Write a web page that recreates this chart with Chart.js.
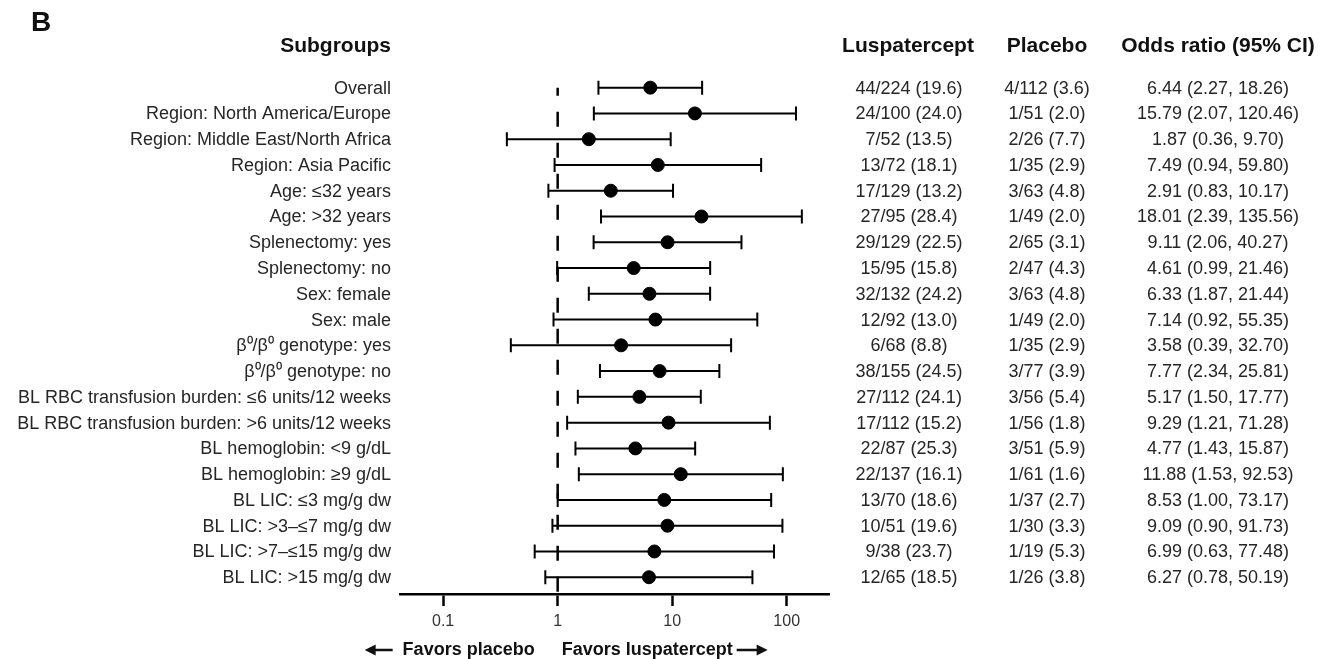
<!DOCTYPE html>
<html>
<head>
<meta charset="utf-8">
<script src="https://cdn.jsdelivr.net/npm/chart.js@4"></script>
<style>
  body { margin: 0; background: #fff; }
  #wrap { width: 1322px; height: 659px; }
</style>
</head>
<body>
<div id="wrap"><canvas id="forestChart" width="1322" height="659"></canvas></div>
<script>
// forest plot data

const subgroups = [
    'Overall',
    'Region: North America/Europe',
    'Region: Middle East/North Africa',
    'Region: Asia Pacific',
    'Age: \u226432 years',
    'Age: >32 years',
    'Splenectomy: yes',
    'Splenectomy: no',
    'Sex: female',
    'Sex: male',
    '\u03B2\u2070/\u03B2\u2070 genotype: yes',
    '\u03B2\u2070/\u03B2\u2070 genotype: no',
    'BL RBC transfusion burden: \u22646 units/12 weeks',
    'BL RBC transfusion burden: >6 units/12 weeks',
    'BL hemoglobin: <9 g/dL',
    'BL hemoglobin: \u22659 g/dL',
    'BL LIC: \u22643 mg/g dw',
    'BL LIC: >3\u2013\u22647 mg/g dw',
    'BL LIC: >7\u2013\u226415 mg/g dw',
    'BL LIC: >15 mg/g dw'
];
const luspN = ['44/224 (19.6)', '24/100 (24.0)', '7/52 (13.5)', '13/72 (18.1)', '17/129 (13.2)',
    '27/95 (28.4)', '29/129 (22.5)', '15/95 (15.8)', '32/132 (24.2)', '12/92 (13.0)',
    '6/68 (8.8)', '38/155 (24.5)', '27/112 (24.1)', '17/112 (15.2)', '22/87 (25.3)',
    '22/137 (16.1)', '13/70 (18.6)', '10/51 (19.6)', '9/38 (23.7)', '12/65 (18.5)'];
const placeboN = ['4/112 (3.6)', '1/51 (2.0)', '2/26 (7.7)', '1/35 (2.9)', '3/63 (4.8)',
    '1/49 (2.0)', '2/65 (3.1)', '2/47 (4.3)', '3/63 (4.8)', '1/49 (2.0)',
    '1/35 (2.9)', '3/77 (3.9)', '3/56 (5.4)', '1/56 (1.8)', '3/51 (5.9)',
    '1/61 (1.6)', '1/37 (2.7)', '1/30 (3.3)', '1/19 (5.3)', '1/26 (3.8)'];
const oddsRatio = [6.44, 15.79, 1.87, 7.49, 2.91, 18.01, 9.11, 4.61, 6.33, 7.14,
    3.58, 7.77, 5.17, 9.29, 4.77, 11.88, 8.53, 9.09, 6.99, 6.27];
const ciLow = [2.27, 2.07, 0.36, 0.94, 0.83, 2.39, 2.06, 0.99, 1.87, 0.92,
    0.39, 2.34, 1.50, 1.21, 1.43, 1.53, 1.00, 0.90, 0.63, 0.78];
const ciHigh = [18.26, 120.46, 9.70, 59.80, 10.17, 135.56, 40.27, 21.46, 21.44, 55.35,
    32.70, 25.81, 17.77, 71.28, 15.87, 92.53, 73.17, 91.73, 77.48, 50.19];
const xTicks = [0.1, 1, 10, 100];

const FONT = '"Liberation Sans", Arial, sans-serif';

// error bars + dashed line at 1
const ciBars = {
    id: 'ciBars',
    beforeDatasetsDraw(chart) {
        const ctx = chart.ctx;
        const x = chart.scales.x, y = chart.scales.y;
        ctx.save();
        ctx.strokeStyle = '#000';

        // reference line
        const x1 = x.getPixelForValue(1);
        ctx.lineWidth = 2.5;
        ctx.setLineDash([15, 16]);
        ctx.lineDashOffset = 7;
        ctx.beginPath();
        ctx.moveTo(x1, y.getPixelForValue(0));
        ctx.lineTo(x1, chart.chartArea.bottom);
        ctx.stroke();
        ctx.setLineDash([]);

        ctx.lineWidth = 2;
        for (let i = 0; i < subgroups.length; i++) {
            const py = y.getPixelForValue(i);
            const a = x.getPixelForValue(ciLow[i]);
            const b = x.getPixelForValue(ciHigh[i]);
            ctx.beginPath();
            ctx.moveTo(a, py); ctx.lineTo(b, py);
            ctx.moveTo(a, py - 7); ctx.lineTo(a, py + 7);
            ctx.moveTo(b, py - 7); ctx.lineTo(b, py + 7);
            ctx.stroke();
        }
        ctx.restore();
    }
};

// table text and headers
const tableText = {
    id: 'tableText',
    afterDraw(chart) {
        const ctx = chart.ctx;
        const y = chart.scales.y, x = chart.scales.x;
        ctx.save();
        ctx.textBaseline = 'middle';

        ctx.fillStyle = '#111';
        ctx.font = 'bold 28px ' + FONT;
        ctx.textAlign = 'left';
        ctx.fillText('B', 31, 23);

        ctx.font = 'bold 21px ' + FONT;
        ctx.textAlign = 'right';
        ctx.fillText('Subgroups', 391, 46);
        ctx.textAlign = 'center';
        ctx.fillText('Luspatercept', 908, 46);
        ctx.fillText('Placebo', 1047, 46);
        ctx.fillText('Odds ratio (95% CI)', 1218, 46);

        ctx.fillStyle = '#262626';
        ctx.font = '18px ' + FONT;
        for (let i = 0; i < subgroups.length; i++) {
            const py = y.getPixelForValue(i) + 1;
            ctx.textAlign = 'right';
            ctx.fillText(subgroups[i], 391, py);
            ctx.textAlign = 'center';
            ctx.fillText(luspN[i], 909, py);
            ctx.fillText(placeboN[i], 1047, py);
            ctx.fillText(oddsRatio[i].toFixed(2) + ' (' + ciLow[i].toFixed(2) + ', ' + ciHigh[i].toFixed(2) + ')', 1218, py);
        }

        // favors labels with arrows
        const x1 = x.getPixelForValue(1);
        const fy = 650;
        ctx.fillStyle = '#111';
        ctx.font = 'bold 18px ' + FONT;
        ctx.textAlign = 'right';
        ctx.fillText('Favors placebo', x1 - 23, fy);
        ctx.textAlign = 'left';
        ctx.fillText('Favors luspatercept', x1 + 4, fy);

        ctx.strokeStyle = '#111';
        ctx.lineWidth = 2.5;
        ctx.beginPath();
        ctx.moveTo(x1 - 165, fy); ctx.lineTo(x1 - 188, fy);
        ctx.moveTo(x1 + 179, fy); ctx.lineTo(x1 + 202, fy);
        ctx.stroke();
        ctx.beginPath();
        ctx.moveTo(x1 - 193, fy); ctx.lineTo(x1 - 182, fy - 5.5); ctx.lineTo(x1 - 182, fy + 5.5); ctx.closePath();
        ctx.moveTo(x1 + 210, fy); ctx.lineTo(x1 + 199, fy - 5.5); ctx.lineTo(x1 + 199, fy + 5.5); ctx.closePath();
        ctx.fill();
        ctx.restore();
    }
};

const ctx1 = document.getElementById('forestChart').getContext('2d');
new Chart(ctx1, {
    type: 'scatter',
    data: {
        datasets: [{
            label: 'Odds ratio',
            data: oddsRatio.map((v, i) => ({ x: v, y: i })),
            backgroundColor: '#000',
            borderColor: '#000',
            pointRadius: 6.5,
            pointHoverRadius: 6.5
        }]
    },
    plugins: [ciBars, tableText],
    options: {
        responsive: false,
        animation: false,
        devicePixelRatio: 1,
        layout: { padding: { left: 400.7, right: 493, top: 70.9, bottom: 0 } },
        plugins: {
            legend: { display: false },
            tooltip: { enabled: false }
        },
        scales: {
            x: {
                type: 'logarithmic',
                min: 0.0426,
                max: 234,
                afterBuildTicks: (scale) => { scale.ticks = xTicks.map(v => ({ value: v })); },
                afterFit: (scale) => { scale.height = 65; },
                grid: { drawOnChartArea: false, drawTicks: true, tickLength: 12, tickColor: '#000', tickWidth: 2.5 },
                border: { display: true, color: '#000', width: 2.5 },
                ticks: {
                    autoSkip: false,
                    maxRotation: 0,
                    padding: 6,
                    color: '#333',
                    font: { size: 16, family: FONT },
                    callback: (v) => String(v)
                }
            },
            y: {
                type: 'linear',
                display: false,
                reverse: true,
                min: -0.65,
                max: 19.65
            }
        }
    }
});
</script>
</body>
</html>
